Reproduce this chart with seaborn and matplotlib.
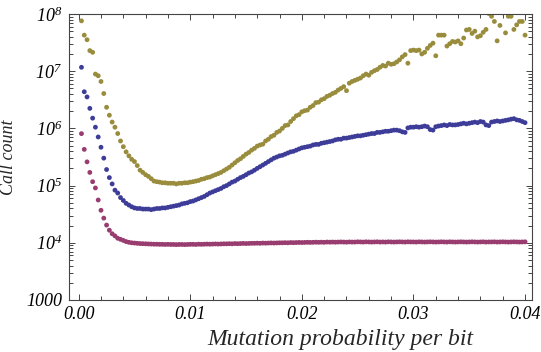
import numpy as np
import pandas as pd
import matplotlib
matplotlib.use("Agg")
import matplotlib.pyplot as plt
import seaborn as sns
from matplotlib.ticker import FixedLocator, LogLocator, FuncFormatter, NullFormatter

# mutation probability grid: 160 runs, step 0.00025
mutation_prob = np.round(np.arange(1, 161) * 0.00025, 5)

# series 1 (blue)
calls_blue = [
    1.17e7, 4.37e6, 3.55e6, 2.24e6, 1.51e6, 1.05e6, 7.08e5, 4.68e5, 3.02e5, 1.91e5,
    1.38e5, 1.07e5, 8.32e4, 7.41e4, 6.17e4, 5.5e4, 4.9e4, 4.57e4, 4.27e4, 4.07e4,
    3.98e4, 3.98e4, 3.89e4, 3.89e4, 3.89e4, 3.8e4, 3.89e4, 3.98e4, 3.98e4, 4.07e4,
    4.07e4, 4.17e4, 4.27e4, 4.37e4, 4.47e4, 4.57e4, 4.79e4, 4.9e4, 5.01e4, 5.25e4,
    5.37e4, 5.62e4, 5.89e4, 6.17e4, 6.46e4, 6.92e4, 7.41e4, 7.76e4, 8.13e4, 8.51e4,
    8.91e4, 9.55e4, 1.0e5, 1.07e5, 1.15e5, 1.2e5, 1.29e5, 1.38e5, 1.45e5, 1.55e5,
    1.66e5, 1.74e5, 1.86e5, 2.0e5, 2.14e5, 2.29e5, 2.45e5, 2.63e5, 2.82e5, 3.02e5,
    3.16e5, 3.31e5, 3.39e5, 3.55e5, 3.72e5, 3.89e5, 3.98e5, 4.17e5, 4.37e5, 4.57e5,
    4.68e5, 4.79e5, 4.9e5, 5.13e5, 5.25e5, 5.25e5, 5.5e5, 5.62e5, 5.75e5, 5.89e5,
    6.03e5, 6.31e5, 6.46e5, 6.46e5, 6.76e5, 6.76e5, 6.92e5, 7.08e5, 7.24e5, 7.41e5,
    7.41e5, 7.59e5, 7.76e5, 7.94e5, 8.13e5, 8.13e5, 8.51e5, 8.51e5, 8.71e5, 8.91e5,
    8.91e5, 9.12e5, 9.33e5, 9.33e5, 9.12e5, 8.71e5, 8.51e5, 1.02e6, 1.05e6, 1.05e6,
    1.07e6, 1.05e6, 1.07e6, 1.1e6, 1.07e6, 9.55e5, 9.33e5, 1.07e6, 1.1e6, 1.12e6,
    1.15e6, 1.12e6, 1.17e6, 1.15e6, 1.15e6, 1.17e6, 1.2e6, 1.23e6, 1.2e6, 1.23e6,
    1.26e6, 1.29e6, 1.26e6, 1.32e6, 1.29e6, 1.15e6, 1.12e6, 1.29e6, 1.32e6, 1.35e6,
    1.32e6, 1.35e6, 1.38e6, 1.41e6, 1.45e6, 1.48e6, 1.41e6, 1.38e6, 1.32e6, 1.26e6,
]

# series 2 (purple)
calls_purple = [
    8.1e5, 4.3e5, 2.6e5, 1.7e5, 1.17e5, 9.1e4, 5.6e4, 3.7e4, 2.7e4, 2.04e4,
    1.66e4, 1.44e4, 1.32e4, 1.2e4, 1.15e4, 1.1e4, 1.05e4, 1.02e4, 1.0e4, 9900,
    9800, 9700, 9650, 9600, 9550, 9500, 9450, 9450, 9400, 9400,
    9350, 9400, 9350, 9350, 9300, 9350, 9350, 9300, 9350, 9400,
    9400, 9350, 9450, 9400, 9450, 9500, 9450, 9500, 9550, 9500,
    9550, 9600, 9600, 9650, 9600, 9700, 9650, 9700, 9750, 9700,
    9750, 9800, 9800, 9850, 9800, 9900, 9850, 9900, 9950, 9900,
    9950, 10000, 10000, 10050, 10000, 10100, 10050, 10100, 10150, 10100,
    10150, 10200, 10150, 10200, 10250, 10200, 10250, 10200, 10300, 10250,
    10300, 10250, 10300, 10350, 10300, 10250, 10350, 10300, 10300, 10400,
    10350, 10300, 10400, 10350, 10300, 10350, 10400, 10300, 10350, 10300,
    10400, 10350, 10300, 10350, 10400, 10350, 10300, 10400, 10350, 10350,
    10300, 10400, 10350, 10300, 10350, 10400, 10350, 10300, 10350, 10400,
    10350, 10300, 10400, 10350, 10300, 10350, 10400, 10350, 10300, 10350,
    10400, 10350, 10300, 10350, 10400, 10300, 10350, 10350, 10400, 10300,
    10350, 10400, 10350, 10300, 10350, 10400, 10350, 10300, 10350, 10400,
]

# series 3 (gold)
calls_gold = [
    7.59e7, 4.27e7, 3.55e7, 2.29e7, 2.14e7, 8.91e6, 8.32e6, 6.61e6, 4.07e6, 2.34e6,
    1.7e6, 1.29e6, 1.05e6, 8.13e5, 6.03e5, 4.79e5, 3.89e5, 3.31e5, 2.88e5, 2.63e5,
    2.24e5, 1.86e5, 1.7e5, 1.55e5, 1.45e5, 1.32e5, 1.2e5, 1.17e5, 1.15e5, 1.12e5,
    1.12e5, 1.1e5, 1.1e5, 1.1e5, 1.07e5, 1.1e5, 1.1e5, 1.12e5, 1.12e5, 1.15e5,
    1.17e5, 1.2e5, 1.23e5, 1.29e5, 1.32e5, 1.38e5, 1.41e5, 1.48e5, 1.55e5, 1.62e5,
    1.7e5, 1.82e5, 1.95e5, 2.09e5, 2.29e5, 2.51e5, 2.75e5, 2.95e5, 3.24e5, 3.55e5,
    3.8e5, 4.17e5, 4.47e5, 4.9e5, 5.13e5, 5.3e5, 6.03e5, 6.46e5, 7.2e5, 7.59e5,
    8.51e5, 9.0e5, 1.0e6, 1.12e6, 1.15e6, 1.32e6, 1.48e6, 1.66e6, 1.74e6, 1.95e6,
    2.04e6, 2.09e6, 2.34e6, 2.51e6, 2.82e6, 2.88e6, 3.16e6, 3.31e6, 3.63e6, 3.8e6,
    4.07e6, 4.27e6, 4.68e6, 5.01e6, 5.37e6, 4.57e6, 6.17e6, 6.61e6, 6.92e6, 7.24e6,
    7.59e6, 8.32e6, 8.91e6, 8.51e6, 9.55e6, 1.02e7, 1.07e7, 1.17e7, 1.26e7, 1.23e7,
    1.38e7, 1.32e7, 1.35e7, 1.45e7, 1.58e7, 1.78e7, 1.95e7, 1.38e7, 2.29e7, 2.34e7,
    2.29e7, 2.34e7, 2.0e7, 2.14e7, 2.51e7, 2.82e7, 3.09e7, 1.86e7, 4.27e7, 4.27e7,
    4.27e7, 2.75e7, 3.02e7, 3.31e7, 3.24e7, 3.39e7, 3.02e7, 3.8e7, 5.25e7, 5.37e7,
    4.57e7, 5.01e7, 3.98e7, 4.17e7, 4.79e7, 5.37e7, 1.02e8, 9.12e7, 7.41e7, 3.39e7,
    6.31e7, 1.05e8, 4.68e7, 9.12e7, 9.12e7, 5.37e7, 6.46e7, 7.41e7, 7.41e7, 4.27e7,
]

series_names = ["blue", "purple", "gold"]
palette = {"blue": "#3d3d99", "purple": "#993d71", "gold": "#998d3d"}

df = pd.concat([
    pd.DataFrame({"p": mutation_prob, "calls": vals, "series": name})
    for name, vals in zip(series_names, [calls_blue, calls_purple, calls_gold])
], ignore_index=True)

sns.set_style("ticks")
plt.rcParams["font.family"] = ["Liberation Serif", "DejaVu Serif"]
plt.rcParams["font.style"] = "italic"
plt.rcParams["mathtext.fontset"] = "custom"
plt.rcParams["mathtext.rm"] = "Liberation Serif:italic"
plt.rcParams["mathtext.it"] = "Liberation Serif:italic"

frame = "#444444"
fig = plt.figure(figsize=(5.41, 3.52), dpi=100)
ax = fig.add_axes([69.3 / 541, 1 - 300 / 352, 463 / 541, 286 / 352])

sns.scatterplot(data=df, x="p", y="calls", hue="series", palette=palette,
                s=12, linewidth=0, legend=False, ax=ax)

ax.set_yscale("log")
ax.set_ylim(1000, 1e8)
ax.set_xlim(-0.00084, 0.04065)

ax.xaxis.set_major_locator(FixedLocator([0.0, 0.01, 0.02, 0.03, 0.04]))
ax.xaxis.set_minor_locator(FixedLocator(np.arange(0, 0.0401, 0.002)))
ax.xaxis.set_major_formatter(FuncFormatter(lambda v, _: f"{v:.2f}"))
ax.yaxis.set_major_locator(LogLocator(base=10, numticks=10))
ax.yaxis.set_minor_locator(LogLocator(base=10, subs=np.arange(2, 10), numticks=20))
ax.yaxis.set_minor_formatter(NullFormatter())


def ylab(v, _):
    e = int(round(np.log10(v)))
    return "1000" if e == 3 else rf"$10^{{{e}}}$"


ax.yaxis.set_major_formatter(FuncFormatter(ylab))

for sp in ax.spines.values():
    sp.set_visible(True)
    sp.set_color(frame)
    sp.set_linewidth(0.8)
ax.tick_params(which="both", direction="in", top=True, right=True,
               color=frame, width=0.7, labelsize=13, labelcolor="black")
ax.tick_params(which="major", length=4.3)
ax.tick_params(which="minor", length=2.8)
ax.tick_params(axis="x", pad=4)
ax.tick_params(axis="y", pad=5)

ax.set_xlabel("Mutation probability per bit", fontsize=17, fontstyle="italic")
ax.set_ylabel("Call count", fontsize=13, fontstyle="italic")
ax.xaxis.set_label_coords(0.585, -0.1)
ax.yaxis.set_label_coords(-0.112, 0.5)

fig.canvas.draw()
for lab in ax.get_xticklabels() + ax.get_yticklabels():
    lab.set_fontstyle("italic")

fig.savefig("out.png", dpi=100)
